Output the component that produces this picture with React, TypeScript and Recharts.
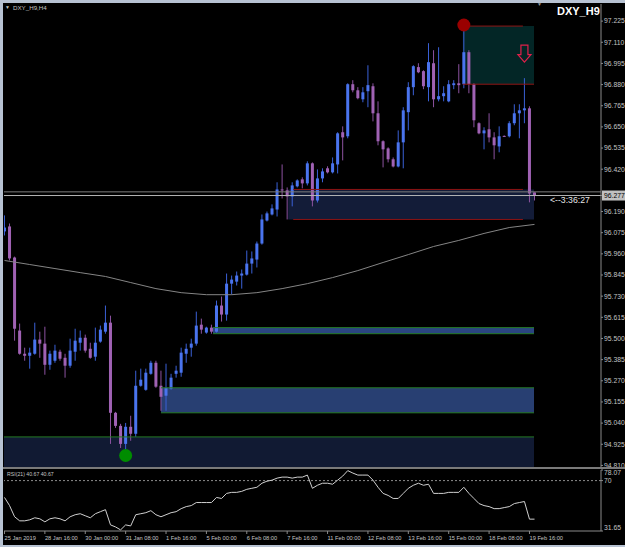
import React from "react";
import {
  ComposedChart,
  Bar,
  Line,
  XAxis,
  YAxis,
  ReferenceArea,
  ReferenceLine,
  ReferenceDot,
} from "recharts";

// DXY_H9, H4 candles
const opens = [
  96.082, 96.109, 95.94, 95.543, 95.417, 95.406, 95.417, 95.494, 95.472, 95.357,
  95.379, 95.428, 95.395, 95.352, 95.428, 95.477, 95.504, 95.444, 95.401, 95.483,
  95.537, 95.586, 95.096, 95.025, 94.927, 95.02, 94.982, 95.243, 95.221, 95.308,
  95.368, 95.243, 95.189, 95.227, 95.308, 95.314, 95.417, 95.45, 95.472, 95.575,
  95.532, 95.559, 95.537, 95.679, 95.63, 95.798, 95.809, 95.842, 95.847, 95.907,
  95.929, 96.016, 96.141, 96.174, 96.201, 96.31, 96.305, 96.272, 96.327, 96.365,
  96.343, 96.452, 96.25, 96.37, 96.425, 96.403, 96.446, 96.621, 96.599, 96.882,
  96.849, 96.8, 96.844, 96.871, 96.724, 96.572, 96.533, 96.474, 96.435, 96.566,
  96.73, 96.866, 96.975, 96.953, 96.866, 96.996, 96.8, 96.817, 96.789, 96.877,
  96.887, 96.882, 97.056, 96.882, 96.67, 96.615, 96.637, 96.593, 96.544, 96.601,
  96.599, 96.67, 96.724, 96.74, 96.751, 96.294,
];
const highs = [
  96.169, 96.125, 95.945, 95.581, 95.45, 95.45, 95.586, 95.537, 95.564, 95.434,
  95.466, 95.439, 95.417, 95.499, 95.553, 95.543, 95.521, 95.477, 95.559, 95.57,
  95.679, 95.624, 95.101, 95.036, 95.041, 95.08, 95.325, 95.336, 95.336, 95.379,
  95.379, 95.325, 95.363, 95.308, 95.352, 95.45, 95.472, 95.499, 95.646, 95.608,
  95.564, 95.575, 95.706, 95.728, 95.853, 95.842, 95.864, 95.875, 95.978, 95.973,
  96.027, 96.174, 96.19, 96.229, 96.349, 96.446, 96.321, 96.349, 96.365, 96.376,
  96.463, 96.457, 96.419, 96.425, 96.436, 96.484, 96.621, 96.653, 96.887, 96.904,
  96.866, 96.866, 96.985, 96.887, 96.789, 96.577, 96.539, 96.484, 96.631, 96.757,
  96.893, 96.985, 96.996, 96.958, 97.105, 97.067, 97.083, 96.871, 96.904, 96.904,
  96.991, 97.198, 97.067, 96.887, 96.675, 96.648, 96.724, 96.621, 96.653, 96.604,
  96.681, 96.773, 96.773, 96.915, 96.762, 96.294,
];
const lows = [
  96.06, 95.924, 95.488, 95.412, 95.379, 95.336, 95.412, 95.395, 95.303, 95.33,
  95.368, 95.379, 95.287, 95.341, 95.379, 95.434, 95.423, 95.39, 95.379, 95.477,
  95.526, 94.927, 95.014, 94.905, 94.878, 94.944, 94.965, 95.238, 95.216, 95.303,
  95.232, 95.107, 95.107, 95.221, 95.287, 95.292, 95.368, 95.401, 95.461, 95.526,
  95.526, 95.526, 95.532, 95.592, 95.597, 95.739, 95.788, 95.771, 95.842, 95.853,
  95.886, 96.01, 96.136, 96.169, 96.163, 96.261, 96.147, 96.218, 96.321, 96.316,
  96.332, 96.218, 96.239, 96.349, 96.397, 96.397, 96.397, 96.468, 96.588, 96.838,
  96.8, 96.784, 96.757, 96.68, 96.55, 96.43, 96.457, 96.43, 96.43, 96.425,
  96.631, 96.822, 96.942, 96.855, 96.789, 96.757, 96.789, 96.789, 96.784, 96.855,
  96.833, 96.86, 96.833, 96.648, 96.61, 96.528, 96.566, 96.474, 96.512, 96.596,
  96.593, 96.659, 96.588, 96.67, 96.24, 96.25,
];
const closes = [
  96.103, 95.935, 95.553, 95.417, 95.406, 95.423, 95.494, 95.472, 95.357, 95.417,
  95.434, 95.39, 95.352, 95.434, 95.488, 95.504, 95.434, 95.395, 95.477, 95.548,
  95.586, 95.096, 95.025, 94.927, 95.02, 94.982, 95.243, 95.276, 95.314, 95.368,
  95.238, 95.183, 95.232, 95.287, 95.325, 95.423, 95.444, 95.472, 95.57, 95.548,
  95.559, 95.537, 95.679, 95.63, 95.798, 95.82, 95.842, 95.853, 95.907, 95.935,
  96.016, 96.147, 96.18, 96.207, 96.31, 96.305, 96.272, 96.332, 96.359, 96.343,
  96.452, 96.25, 96.37, 96.408, 96.403, 96.452, 96.615, 96.593, 96.882, 96.849,
  96.806, 96.838, 96.877, 96.724, 96.572, 96.528, 96.474, 96.435, 96.566, 96.74,
  96.866, 96.98, 96.947, 96.871, 97.002, 96.8, 96.817, 96.833, 96.882, 96.887,
  96.877, 97.056, 96.882, 96.686, 96.615, 96.631, 96.593, 96.55, 96.599, 96.599,
  96.67, 96.724, 96.74, 96.751, 96.288, 96.277,
];

// grey moving average, read every 5th bar
const maEvery5 = [
  95.924, 95.902, 95.88, 95.858, 95.837, 95.804, 95.771, 95.749, 95.738, 95.738,
  95.749, 95.771, 95.798, 95.831, 95.869, 95.913, 95.956, 96.0, 96.033, 96.071,
  96.103, 96.12,
];

const rsi21 = [
  57.18, 50.99, 42.48, 39.39, 39.39, 40.16, 41.71, 40.93, 38.61, 40.93,
  41.71, 40.93, 39.39, 42.48, 44.03, 44.8, 43.25, 41.71, 44.8, 46.35,
  47.9, 36.29, 34.74, 32.5, 36.29, 35.52, 44.03, 44.8, 45.58, 47.12,
  44.03, 42.48, 44.03, 45.58, 46.35, 48.67, 50.22, 50.99, 53.31, 53.31,
  53.31, 53.31, 57.18, 56.41, 60.27, 61.05, 61.05, 61.82, 63.37, 64.14,
  64.92, 68.01, 69.56, 70.33, 71.88, 72.65, 72.65, 71.88, 72.65, 72.65,
  74.2, 64.14, 66.46, 68.01, 68.01, 67.24, 70.33, 73.43, 77.6, 75.75,
  74.2, 74.2, 74.2, 70.33, 64.92, 60.27, 58.73, 56.41, 56.41, 60.27,
  64.14, 66.46, 68.01, 66.46, 67.24, 60.27, 60.27, 60.27, 61.05, 61.05,
  61.05, 64.92, 60.27, 56.41, 52.54, 50.99, 50.22, 48.67, 48.67, 49.45,
  50.22, 52.54, 53.31, 54.09, 40.67, 40.67,
];

const timeLabels = [
  "25 Jan 2019", "28 Jan 16:00", "30 Jan 00:00", "31 Jan 08:00", "1 Feb 16:00",
  "5 Feb 00:00", "6 Feb 08:00", "7 Feb 16:00", "11 Feb 00:00", "12 Feb 08:00",
  "13 Feb 16:00", "15 Feb 00:00", "18 Feb 08:00", "19 Feb 16:00",
];
const timeTicks = timeLabels.map((_, k) => k * 8);

const priceTicks = [
  94.81, 94.925, 95.04, 95.155, 95.27, 95.385, 95.5, 95.615, 95.73, 95.845,
  95.96, 96.075, 96.19, 96.277, 96.42, 96.535, 96.65, 96.765, 96.88, 96.995,
  97.11, 97.225,
];
const rsiTicks = [31.65, 70, 78.07];
const lastBid = 96.277;
const lastAsk = 96.297;

const data = opens.map((o, i) => ({
  i,
  o,
  h: highs[i],
  l: lows[i],
  c: closes[i],
  range: [lows[i], highs[i]],
  ma: i % 5 === 0 ? maEvery5[i / 5] : null,
  rsi: rsi21[i],
}));

const X_DOMAIN: [number, number] = [-0.099, 118.17];
const FONT = "'Liberation Sans', Arial, sans-serif";
const AXIS_GREY = "#8a8a8a";
const TEXT_GREY = "#c4c4c4";
const BULL = "#4a74ee";
const BULL_WICK = "#3a60d6";
const BEAR = "#a062b4";
const BEAR_WICK = "#8c52a0";
const ZONE_GREEN = "#257a25";
const ZONE_RED = "#8e1414";

const Candle = (props: any) => {
  const { x, y, width, height, payload } = props;
  if (x == null || y == null) return null;
  const top = Math.min(y, y + height);
  const span = Math.max(Math.abs(height), 1);
  const { o, h, l, c } = payload;
  const k = span / (h - l || 1);
  const bull = c > o;
  const bTop = top + (h - Math.max(o, c)) * k;
  const bH = Math.max(Math.abs(o - c) * k, 1);
  const cx = x + width / 2;
  return (
    <g>
      <rect x={cx - 0.5} y={top} width={1} height={span} fill={bull ? BULL_WICK : BEAR_WICK} />
      <rect x={x} y={bTop} width={width} height={bH} fill={bull ? BULL : BEAR} />
    </g>
  );
};

const PriceTick = ({ x, y, payload }: any) => {
  const v = payload.value;
  if (v === lastBid) {
    return (
      <g>
        <rect x={x - 1} y={y - 5} width={24} height={10} fill="#c0c0c0" />
        <text x={x + 1} y={y} dy="0.35em" fontSize={6.8} fontFamily={FONT} fill="#000">
          {v.toFixed(3)}
        </text>
      </g>
    );
  }
  return (
    <text x={x + 1} y={y} dy="0.35em" fontSize={6.8} fontFamily={FONT} fill={TEXT_GREY}>
      {v.toFixed(3)}
    </text>
  );
};

const RsiTick = ({ x, y, payload }: any) => {
  const v = payload.value;
  const shift = v === 78.07 ? 3 : v === 31.65 ? -3 : 0;
  return (
    <text x={x + 1} y={y + shift} dy="0.35em" fontSize={6.8} fontFamily={FONT} fill={TEXT_GREY}>
      {v}
    </text>
  );
};

const TimeTick = ({ x, y, payload }: any) => (
  <text x={x} y={y + 4} dy="0.35em" fontSize={5.7} fontFamily={FONT} fill={TEXT_GREY}>
    {timeLabels[payload.value / 8]}
  </text>
);

const DownArrow = (props: any) => {
  const { cx, cy } = props;
  const d = `M${cx - 3.5},${cy - 8.5} H${cx + 3.5} V${cy + 1} H${cx + 6.5} L${cx},${cy + 8.5} L${cx - 6.5},${cy + 1} H${cx - 3.5} Z`;
  return <path d={d} fill="none" stroke="#e0204a" strokeWidth={1.2} />;
};

export default function App() {
  return (
    <div
      style={{
        position: "fixed",
        left: 0,
        top: 0,
        width: 625,
        height: 547,
        background: "#b7c2d2",
        overflow: "hidden",
        fontFamily: FONT,
      }}
    >
      <div style={{ position: "absolute", left: 3, top: 3, width: 622, height: 542, background: "#000" }} />

      {/* main price panel */}
      <div style={{ position: "absolute", left: 3, top: 3 }}>
        <ComposedChart width={622} height={465} data={data} margin={{ top: 1, right: 0, bottom: 0, left: 1 }}>
          <XAxis dataKey="i" type="number" domain={X_DOMAIN} allowDataOverflow hide />
          <YAxis
            orientation="right"
            width={24}
            domain={[94.796, 97.318]}
            allowDataOverflow
            ticks={priceTicks}
            interval={0}
            tick={<PriceTick />}
            tickSize={2}
            tickMargin={0}
            tickLine={{ stroke: AXIS_GREY }}
            axisLine={{ stroke: AXIS_GREY }}
          />

          {/* zones */}
          <ReferenceArea x1={-0.099} x2={104.9} y1={94.796} y2={94.965} fill="#111a33" fillOpacity={1} />
          <ReferenceLine segment={[{ x: -0.099, y: 94.965 }, { x: 104.9, y: 94.965 }]} stroke={ZONE_GREEN} />
          <ReferenceArea x1={31} x2={104.9} y1={95.096} y2={95.232} fill="#283f72" fillOpacity={1} />
          <ReferenceLine segment={[{ x: 31, y: 95.232 }, { x: 104.9, y: 95.232 }]} stroke={ZONE_GREEN} />
          <ReferenceLine segment={[{ x: 31, y: 95.096 }, { x: 104.9, y: 95.096 }]} stroke={ZONE_GREEN} />
          <ReferenceArea x1={41.3} x2={104.9} y1={95.526} y2={95.559} fill="#2a4580" fillOpacity={1} />
          <ReferenceLine segment={[{ x: 41.3, y: 95.559 }, { x: 104.9, y: 95.559 }]} stroke={ZONE_GREEN} />
          <ReferenceLine segment={[{ x: 41.3, y: 95.526 }, { x: 104.9, y: 95.526 }]} stroke={ZONE_GREEN} />
          <ReferenceArea x1={56.2} x2={104.9} y1={96.147} y2={96.31} fill="#131c38" fillOpacity={1} />
          <ReferenceLine segment={[{ x: 57.2, y: 96.31 }, { x: 102.7, y: 96.31 }]} stroke={ZONE_RED} />
          <ReferenceLine segment={[{ x: 57.2, y: 96.147 }, { x: 102.7, y: 96.147 }]} stroke={ZONE_RED} />
          <ReferenceArea x1={90.8} x2={104.9} y1={96.882} y2={97.198} fill="#032626" fillOpacity={1} />
          <ReferenceLine segment={[{ x: 90.8, y: 97.198 }, { x: 102.7, y: 97.198 }]} stroke={ZONE_RED} />
          <ReferenceLine segment={[{ x: 90.8, y: 96.882 }, { x: 104.9, y: 96.882 }]} stroke={ZONE_RED} />

          <ReferenceLine y={lastAsk} stroke="#7c7c7c" />
          <ReferenceLine y={lastBid} stroke="#b4b4b4" />

          <Line
            dataKey="ma"
            type="linear"
            stroke="#858585"
            strokeWidth={1}
            dot={false}
            connectNulls
            isAnimationActive={false}
          />
          <Bar dataKey="range" barSize={3} shape={<Candle />} isAnimationActive={false} />

          <ReferenceDot x={91} y={97.204} r={6.5} fill="#9a0000" stroke="none" />
          <ReferenceDot x={24} y={94.864} r={6.5} fill="#008c00" stroke="none" />
          <ReferenceDot x={103} y={97.048} r={6} shape={<DownArrow />} />
        </ComposedChart>
      </div>

      {/* panel separator */}
      <div style={{ position: "absolute", left: 3, top: 467, width: 622, height: 2, background: "#7a7a7a" }} />

      {/* RSI panel */}
      <div style={{ position: "absolute", left: 3, top: 468 }}>
        <ComposedChart width={622} height={77} data={data} margin={{ top: 2, right: 0, bottom: 0, left: 1 }}>
          <XAxis
            dataKey="i"
            type="number"
            domain={X_DOMAIN}
            allowDataOverflow
            ticks={timeTicks}
            interval={0}
            height={14}
            tick={<TimeTick />}
            tickSize={3}
            tickMargin={0}
            tickLine={{ stroke: AXIS_GREY }}
            axisLine={{ stroke: AXIS_GREY }}
          />
          <YAxis
            orientation="right"
            width={24}
            domain={[31.65, 78.07]}
            allowDataOverflow
            ticks={rsiTicks}
            interval={0}
            tick={<RsiTick />}
            tickSize={2}
            tickMargin={0}
            tickLine={{ stroke: AXIS_GREY }}
            axisLine={{ stroke: AXIS_GREY }}
          />
          <ReferenceLine y={70} stroke="#8c8c8c" strokeDasharray="2 2" />
          <Line dataKey="rsi" type="linear" stroke="#d0d0d0" strokeWidth={1} dot={false} isAnimationActive={false} />
        </ComposedChart>
      </div>

      {/* texts */}
      <div style={{ position: "absolute", left: 5, top: 4, fontSize: 5, color: TEXT_GREY }}>▼</div>
      <div style={{ position: "absolute", left: 13, top: 4, fontSize: 6.2, color: TEXT_GREY, whiteSpace: "nowrap" }}>
        DXY_H9,H4
      </div>
      <div style={{ position: "absolute", left: 557, top: 5, fontSize: 11, fontWeight: "bold", color: "#fff", whiteSpace: "nowrap" }}>
        DXY_H9
      </div>
      <div style={{ position: "absolute", left: 537, top: 1, fontSize: 5, color: "#9a9a9a" }}>▼</div>
      <div style={{ position: "absolute", left: 550, top: 195, fontSize: 8.7, color: "#e6e6e6", whiteSpace: "nowrap" }}>
        {"<--3:36:27"}
      </div>
      <div style={{ position: "absolute", left: 7, top: 471, fontSize: 5.2, color: TEXT_GREY, whiteSpace: "nowrap" }}>
        RSI(21) 40.67 40.67
      </div>
    </div>
  );
}
